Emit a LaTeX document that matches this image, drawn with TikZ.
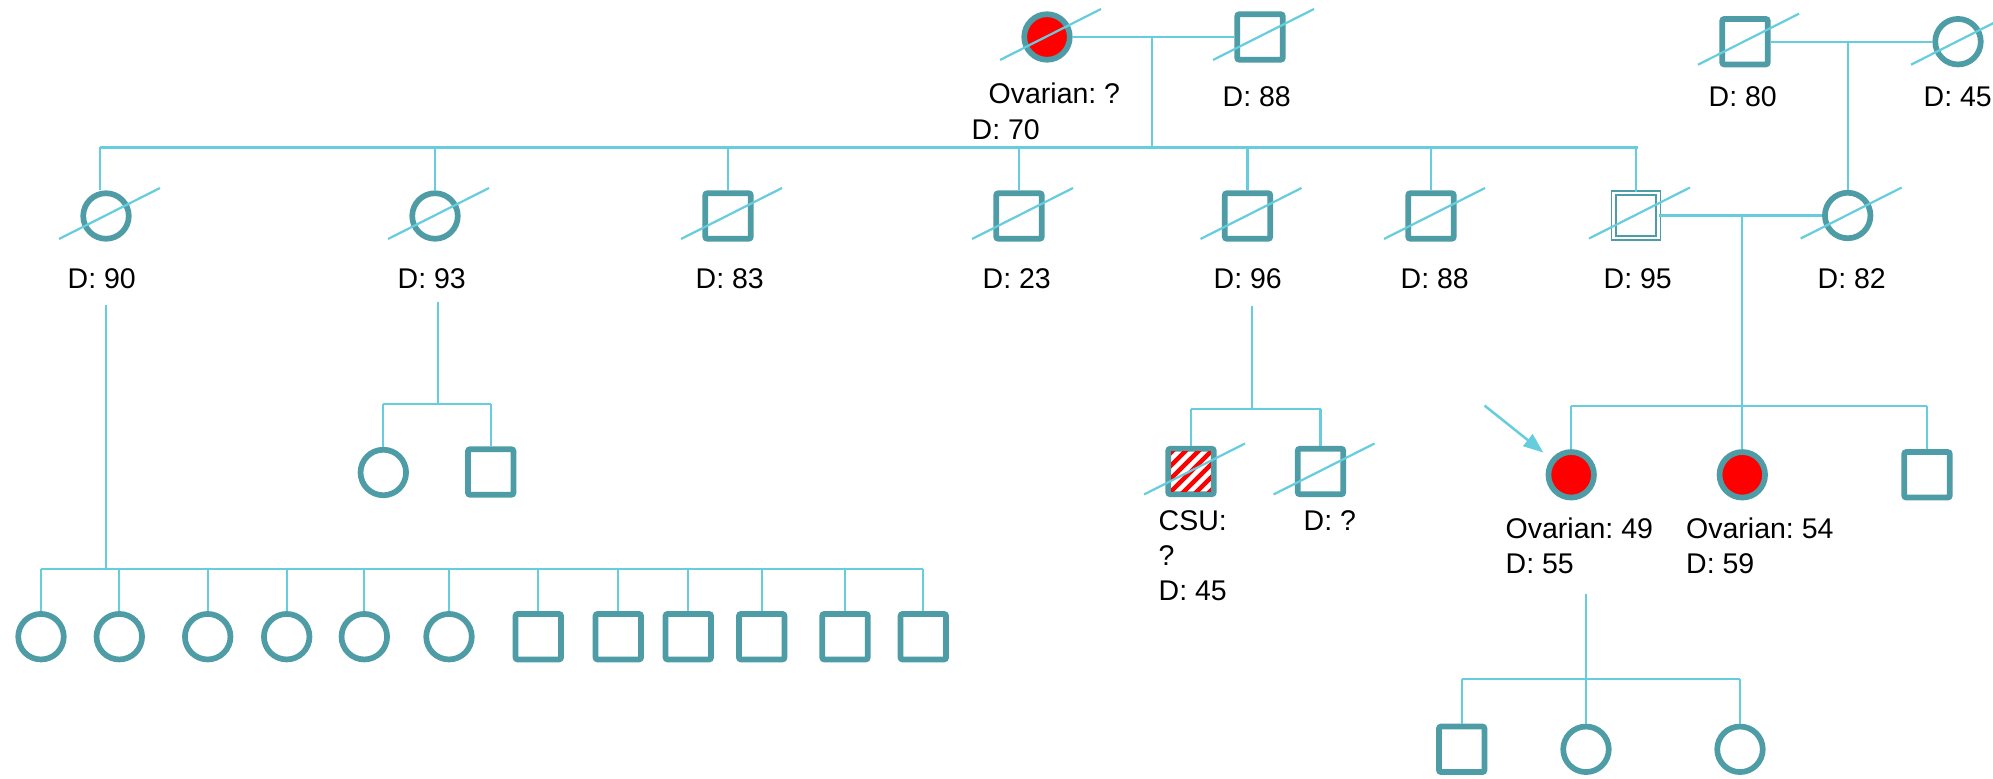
\documentclass[tikz,border=0pt]{standalone}
\usepackage{fontspec}
\setmainfont{Liberation Sans}
\usetikzlibrary{calc,arrows.meta}
\definecolor{nodecol}{RGB}{78,156,166}
\definecolor{conncol}{RGB}{102,205,222}
\definecolor{affred}{RGB}{255,0,0}
\frenchspacing
\newcommand\lbfont{\fontsize{8.1}{9.9}\selectfont\frenchspacing}
\newcommand\dslash[1]{\draw[conn] ($(#1)+(-47,23)$) -- ($(#1)+(54,-28)$);}
\tikzset{
  male/.style={rectangle, draw=nodecol, line width=0.057cm, minimum size=0.455cm, rounded corners=0.6pt, fill=white, inner sep=0pt},
  female/.style={circle, draw=nodecol, line width=0.057cm, minimum size=0.455cm, fill=white, inner sep=0pt},
  affected/.style={fill=affred},
  twinbox/.style={rectangle, draw=nodecol, line width=0.018cm, double=white, double distance=0.025cm, minimum size=0.446cm, fill=white, inner sep=0pt},
  conn/.style={draw=conncol, line width=0.022cm},
  lbl/.style={font=\lbfont, inner sep=0pt, anchor=base west, align=left},
  probarrow/.style={draw=conncol, fill=conncol, line width=0.025cm, -{Triangle[length=0.2cm,width=0.15cm]}, shorten >=0.1cm}
}
\begin{document}
\begin{tikzpicture}[x=0.01cm,y=-0.01cm]
\useasboundingbox (0,0) rectangle (1993,779);
\fill[white] (0,0) rectangle (1993,779);

% ---------- generation I ----------
\node[female,affected] (gm) at (1047,37) {};
\node[male] (gf) at (1260,37) {};
\node[male] (rgf) at (1745,41.7) {};
\node[female] (rgm) at (1958,41.7) {};

% ---------- generation II ----------
\node[female] (c1) at (106,216) {};
\node[female] (c2) at (435,216) {};
\node[male] (s3) at (728,216) {};
\node[male] (s4) at (1019,216) {};
\node[male] (s5) at (1247.5,216) {};
\node[male] (s6) at (1431,216) {};
\node[twinbox] (s7) at (1636,215.5) {};
\node[female] (w) at (1847.7,215.5) {};

% ---------- generation III ----------
\node[female] (g1) at (383.3,472.5) {};
\node[male] (g2) at (490.7,472) {};
\node[male] (csu) at (1191,471.5) {};
\node[male] (dq) at (1320.5,471.5) {};
\node[female,affected] (pb) at (1571.2,474.8) {};
\node[female,affected] (sis) at (1742.3,474.8) {};
\node[male] (bro) at (1927,474.8) {};

% bottom row, children of c1
\node[female] (b1) at (41,636.7) {};
\node[female] (b2) at (119.3,636.7) {};
\node[female] (b3) at (207.7,636.7) {};
\node[female] (b4) at (286.7,636.7) {};
\node[female] (b5) at (364.3,636.7) {};
\node[female] (b6) at (449,636.7) {};
\node[male] (b7) at (538.3,636.7) {};
\node[male] (b8) at (618.3,636.7) {};
\node[male] (b9) at (688.3,636.7) {};
\node[male] (b10) at (761.7,636.7) {};
\node[male] (b11) at (845,636.7) {};
\node[male] (b12) at (923.3,636.7) {};

% ---------- generation IV ----------
\node[male] (k1) at (1461.7,749.3) {};
\node[female] (k2) at (1586,749.3) {};
\node[female] (k3) at (1740,749.3) {};

% CSU hatching
\begin{scope}
  \clip ($(csu)+(-19.9,-19.9)$) rectangle ($(csu)+(19.9,19.9)$);
  \foreach \k in {-5,...,5}
    {\draw[affred, line width=0.045cm] ($(csu)+(\k*13-30,30)$) -- ($(csu)+(\k*13+30,-30)$);}
\end{scope}

% ---------- connectors ----------
% marriage I (left)
\draw[conn] (gm) -- (gf);
\coordinate (m1) at (1152,37);
\coordinate (sibL) at (100,147.5);
\coordinate (sibR) at (1638,147.5);
\draw[conn] (m1) -- (m1 |- sibL);
\draw[conn] (sibL) -- (sibR);
\draw[conn] (sibL) -- (sibL |- c1.north);
\foreach \n in {c2,s3,s4,s5,s6,s7}
  {\draw[conn] (\n.north) -- (\n.north |- sibL);}

% marriage I (right)
\draw[conn] (rgf) -- (rgm);
\coordinate (m2) at (1847.7,41.7);
\draw[conn] (m2) -- (w.north);

% marriage II (s7 - w)
\draw[conn] (s7) -- (w);
\coordinate (m3) at (1741.8,215.5);
\coordinate (sib3L) at (1571.2,406.3);
\coordinate (sib3R) at (1927,406.3);
\draw[conn] (m3) -- (m3 |- sib3L);
\draw[conn] (sib3L) -- (sib3R);
\foreach \n in {pb,sis,bro}
  {\draw[conn] (\n.north) -- (\n.north |- sib3L);}

% c1 descendants
\coordinate (d1) at (106,305);
\coordinate (sib4L) at (41,569);
\coordinate (sib4R) at (923.3,569);
\draw[conn] (d1) -- (d1 |- sib4L);
\draw[conn] (sib4L) -- (sib4R);
\foreach \n in {b1,b2,b3,b4,b5,b6,b7,b8,b9,b10,b11,b12}
  {\draw[conn] (\n.north) -- (\n.north |- sib4L);}

% c2 descendants
\coordinate (d2) at (438.3,301.7);
\coordinate (sib5L) at (383.3,404);
\coordinate (sib5R) at (490.7,404);
\draw[conn] (d2) -- (d2 |- sib5L);
\draw[conn] (sib5L) -- (sib5R);
\foreach \n in {g1,g2}
  {\draw[conn] (\n.north) -- (\n.north |- sib5L);}

% s5 descendants
\coordinate (d5) at (1252,305.7);
\coordinate (sib6L) at (1191,409.3);
\coordinate (sib6R) at (1320.5,409.3);
\draw[conn] (d5) -- (d5 |- sib6L);
\draw[conn] (sib6L) -- (sib6R);
\foreach \n in {csu,dq}
  {\draw[conn] (\n.north) -- (\n.north |- sib6L);}

% proband descendants
\coordinate (d6) at (1585.7,594);
\coordinate (sib7L) at (1461.7,679.3);
\coordinate (sib7R) at (1740,679.3);
\draw[conn] (d6) -- (d6 |- sib7L);
\draw[conn] (sib7L) -- (sib7R);
\foreach \n in {k1,k2,k3}
  {\draw[conn] (\n.north) -- (\n.north |- sib7L);}

% proband arrow
\coordinate (arrS) at (1484.6,405.6);
\draw[probarrow] (arrS) -- (pb);

% deceased slashes
\foreach \n in {gm,gf,rgf,rgm,c1,c2,s3,s4,s5,s6,s7,w,csu,dq}
  {\dslash{\n}}

% ---------- labels ----------
\node[lbl] (l-gm) at (988,104) {Ovarian: ?};
\node[lbl] (l-gm2) at (971,140) {D: 70};
\node[lbl] (l-gf) at (1222,106.5) {D: 88};
\node[lbl] (l-rgf) at (1708,106.5) {D: 80};
\node[lbl] (l-rgm) at (1923,106.5) {D: 45};

\node[lbl] (l-c1) at (67,288) {D: 90};
\node[lbl] (l-c2) at (397,288) {D: 93};
\node[lbl] (l-s3) at (695,288) {D: 83};
\node[lbl] (l-s4) at (982,288) {D: 23};
\node[lbl] (l-s5) at (1213,288) {D: 96};
\node[lbl] (l-s6) at (1400,288) {D: 88};
\node[lbl] (l-s7) at (1603,288) {D: 95};
\node[lbl] (l-w) at (1817,288) {D: 82};

% multi-line labels: base anchor is the baseline of the last line
\node[lbl] (l-csu) at (1158,600) {CSU:\\?\\D: 45};
\node[lbl] (l-dq) at (1303,530) {D: ?};
\node[lbl] (l-pb) at (1505,573.5) {Ovarian: 49\\D: 55};
\node[lbl] (l-sis) at (1685.5,573.5) {Ovarian: 54\\D: 59};
\end{tikzpicture}
\end{document}
